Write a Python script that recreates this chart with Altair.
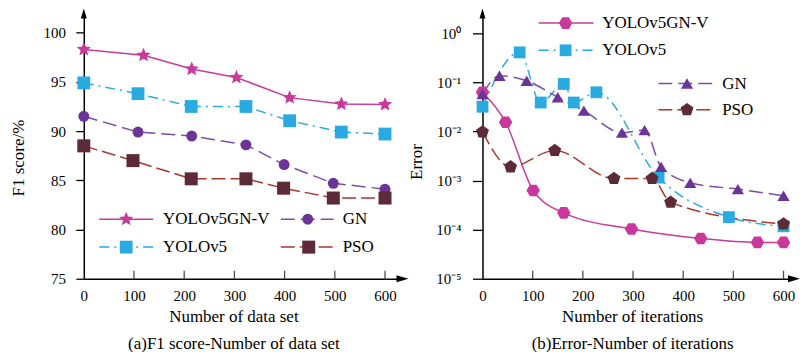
import math
import altair as alt
import pandas as pd

# ---------------- data ----------------
series_names = ["YOLOv5GN-V", "YOLOv5", "GN", "PSO"]

x_tick_values = [0, 100, 200, 300, 400, 500, 600]
f1_tick_values = [75, 80, 85, 90, 95, 100]
err_tick_values = [1e-5, 1e-4, 1e-3, 1e-2, 1e-1, 1]

# (a) F1 score vs number of data set
f1_x_yolov5gnv = [0, 119, 215, 304, 410, 513, 600]
f1_y_yolov5gnv = [98.3, 97.7, 96.3, 95.45, 93.4, 92.75, 92.7]
f1_x_yolov5 = [0, 108, 214, 323, 410, 513, 600]
f1_y_yolov5 = [94.9, 93.8, 92.5, 92.5, 91.05, 89.9, 89.7]
f1_x_gn = [0, 108, 215, 323, 399, 497, 600]
f1_y_gn = [91.5, 89.9, 89.5, 88.6, 86.6, 84.7, 84.1]
f1_x_pso = [0, 98, 214, 323, 398, 497, 600]
f1_y_pso = [88.5, 87.0, 85.15, 85.15, 84.2, 83.2, 83.2]

# (b) Error vs number of iterations
err_x_yolov5gnv = [0, 46, 101, 162, 297, 435, 548, 600]
err_y_yolov5gnv = [0.063, 0.0155, 6.3e-4, 2.2e-4, 1.03e-4, 6.6e-5, 5.5e-5, 5.5e-5]
err_x_yolov5 = [0, 74, 116, 162, 182, 227, 351, 491, 600]
err_y_yolov5 = [0.032, 0.41, 0.039, 0.093, 0.039, 0.063, 1.15e-3, 1.8e-4, 1.17e-4]
err_x_gn = [0, 34, 88, 150, 202, 278, 323, 356, 414, 509, 600]
err_y_gn = [0.058, 0.137, 0.108, 0.05, 0.0266, 0.0095, 0.0107, 1.9e-3, 9.0e-4, 6.7e-4, 4.9e-4]
err_x_pso = [0, 56, 144, 262, 338, 375, 600]
err_y_pso = [0.0098, 1.9e-3, 4.1e-3, 1.1e-3, 1.1e-3, 3.6e-4, 1.3e-4]

f1_title = "F1 score/%"
f1_x_title = ["Number of data set", "(a)F1 score-Number of data set"]
err_title = "Error"
err_x_title = ["Number of  iterations", "(b)Error-Number of  iterations"]

# ---------------- styles ----------------
FONT = "Liberation Serif"
TICK_FS = 15
TEXT_FS = 17


def poly_path(n, inner=None, rot=-90):
    k = n * 2 if inner else n
    pts = []
    for i in range(k):
        r = 1 if (inner is None or i % 2 == 0) else inner
        a = math.radians(rot + 360 * i / k)
        pts.append((r * math.cos(a), r * math.sin(a)))
    return "M" + "L".join(f"{x:.3f},{y:.3f}" for x, y in pts) + "Z"


STAR = poly_path(5, inner=0.45)
HEX = poly_path(6, rot=0)
PENT = poly_path(5)
TRI = "M0,-0.85L1,0.85L-1,0.85Z"
UP_ARROW = "M0,-1L0.6,1L-0.6,1Z"
RIGHT_ARROW = "M1,0L-1,-0.6L-1,0.6Z"

line_colors = {"YOLOv5GN-V": "#c83a9c", "YOLOv5": "#29abe2", "GN": "#7b4ea3", "PSO": "#a8392e"}
mark_colors = {"YOLOv5GN-V": "#c8399b", "YOLOv5": "#29abe2", "GN": "#6b3597", "PSO": "#5c2b37"}
dashes = {"YOLOv5GN-V": None, "YOLOv5": [10, 5, 2, 5], "GN": [14, 6], "PSO": [14, 5]}

left_shapes = {"YOLOv5GN-V": (STAR, 225), "YOLOv5": ("square", 165), "GN": ("circle", 120), "PSO": ("square", 170)}
right_shapes = {"YOLOv5GN-V": (HEX, 180), "YOLOv5": ("square", 140), "GN": (TRI, 150), "PSO": (PENT, 185)}

# legend layout (pixels inside the plot area): x1, x2, marker x, label x, y
left_legend = {
    "YOLOv5GN-V": (15.5, 69.5, 42.5, 79.5, 206.3),
    "YOLOv5": (15.5, 69.5, 42.5, 79.5, 234.3),
    "GN": (197.5, 250.5, 224.5, 259.5, 206.3),
    "PSO": (197.5, 250.5, 225.5, 259.5, 234.3),
}
right_legend = {
    "YOLOv5GN-V": (56.3, 111.3, 83.3, 120.0, 9.7),
    "YOLOv5": (56.3, 111.3, 83.3, 120.0, 37.0),
    "GN": (176.3, 233.3, 205.0, 240.3, 70.3),
    "PSO": (176.3, 233.3, 205.0, 240.3, 96.5),
}

one_row = pd.DataFrame({"a": [0]})


def build_panel(data, shapes, legend, x_scale, y_scale, x_axis, y_axis,
                ymin, xmax, ymax, ytype, interp, width, height):
    layers = []
    X = lambda: alt.X("x:Q", scale=x_scale, axis=x_axis)
    Y = lambda: alt.Y("y:Q", scale=y_scale, axis=y_axis)
    for name in series_names:
        xs, ys = data[name]
        df = pd.DataFrame({"x": xs, "y": ys})
        kw = dict(color=line_colors[name], strokeWidth=1.5, interpolate=interp)
        if dashes[name]:
            kw["strokeDash"] = dashes[name]
        layers.append(alt.Chart(df).mark_line(**kw).encode(x=X(), y=Y()))
    for name in series_names:
        xs, ys = data[name]
        df = pd.DataFrame({"x": xs, "y": ys})
        shp, sz = shapes[name]
        layers.append(alt.Chart(df).mark_point(shape=shp, size=sz, filled=True, opacity=1,
                                               color=mark_colors[name]).encode(x=X(), y=Y()))
    # inward ticks on x axis
    tdf = pd.DataFrame({"x": x_tick_values[1:]})
    layers.append(alt.Chart(tdf).mark_tick(orient="vertical", size=8, thickness=1.3, yOffset=-4,
                                           color="black").encode(
        x=X(), y=alt.YDatum(ymin, type="quantitative", scale=y_scale, axis=y_axis)))
    # arrows
    layers.append(alt.Chart(one_row).mark_point(shape=UP_ARROW, size=100, filled=True, opacity=1,
                                                color="black").encode(
        x=alt.XDatum(0, type="quantitative", scale=x_scale, axis=x_axis),
        y=alt.YDatum(ymax, type="quantitative", scale=y_scale, axis=y_axis)))
    layers.append(alt.Chart(one_row).mark_point(shape=RIGHT_ARROW, size=144, filled=True, opacity=1,
                                                color="black").encode(
        x=alt.XDatum(xmax, type="quantitative", scale=x_scale, axis=x_axis),
        y=alt.YDatum(ymin, type="quantitative", scale=y_scale, axis=y_axis)))
    # legend
    for name in series_names:
        x1, x2, xm, lx, ly = legend[name]
        kw = dict(color=line_colors[name], strokeWidth=1.5)
        if dashes[name]:
            kw["strokeDash"] = dashes[name]
        layers.append(alt.Chart(one_row).mark_rule(**kw).encode(
            x=alt.value(x1), x2=alt.value(x2), y=alt.value(ly)))
        shp, sz = shapes[name]
        layers.append(alt.Chart(one_row).mark_point(shape=shp, size=sz, filled=True, opacity=1,
                                                    color=mark_colors[name]).encode(
            x=alt.value(xm), y=alt.value(ly)))
        layers.append(alt.Chart(one_row).mark_text(align="left", baseline="middle", font=FONT,
                                                   fontSize=TEXT_FS, color="black").encode(
            x=alt.value(lx), y=alt.value(ly), text=alt.value(name)))
    return alt.layer(*layers).properties(width=width, height=height)


def x_axis_def(title):
    return alt.Axis(values=x_tick_values, format="d", ticks=False, tickSize=0,
                    labelFont=FONT, labelFontSize=TICK_FS, labelColor="black",
                    labelBaseline="alphabetic", labelPadding=21.8, labelFlush=False,
                    domainColor="black", domainWidth=1.5, grid=False,
                    title=title, titleFont=FONT, titleFontSize=TEXT_FS, titleFontWeight="normal",
                    titleColor="black", titleX=150, titleY=43, titleBaseline="alphabetic",
                    titleAlign="center", titleLineHeight=26.6)


H = 266
LW = 319.5
RW = 312.3

left_x_scale = alt.Scale(domain=[0, LW / 0.5033], nice=False, zero=False)
left_y_scale = alt.Scale(domain=[75, 75 + H / 9.868], nice=False, zero=False)
left_y_axis = alt.Axis(values=f1_tick_values, tickSize=8, tickWidth=1.3, tickColor="black",
                       labelFont=FONT, labelFontSize=TICK_FS, labelColor="black", labelPadding=10.4,
                       domainColor="black", domainWidth=1.5, grid=False,
                       title=f1_title, titleFont=FONT, titleFontSize=TEXT_FS, titleFontWeight="normal",
                       titleColor="black", titleX=-65.5, titleY=144.5, titleAngle=270,
                       titleBaseline="middle", titleAlign="center")

err_top = 10 ** (H / 49.2 - 5)
right_x_scale = alt.Scale(domain=[0, RW / 0.503], nice=False, zero=False)
right_y_scale = alt.Scale(type="log", domain=[1e-5, err_top], nice=False)
label_expr = ("datum.value >= 0.5 ? '10⁰' : datum.value >= 0.05 ? '10⁻¹' : "
              "datum.value >= 0.005 ? '10⁻²' : datum.value >= 0.0005 ? '10⁻³' : "
              "datum.value >= 0.00005 ? '10⁻⁴' : '10⁻⁵'")
right_y_axis = alt.Axis(values=err_tick_values, labelExpr=label_expr, tickSize=10, tickWidth=1.3,
                        tickColor="black", labelFont=FONT, labelFontSize=TICK_FS, labelColor="black",
                        labelPadding=11.7, domainColor="black", domainWidth=1.5, grid=False,
                        title=err_title, titleFont=FONT, titleFontSize=TEXT_FS, titleFontWeight="normal",
                        titleColor="black", titleX=-65.7, titleY=148.5, titleAngle=270,
                        titleBaseline="middle", titleAlign="center")

left_data = {
    "YOLOv5GN-V": (f1_x_yolov5gnv, f1_y_yolov5gnv),
    "YOLOv5": (f1_x_yolov5, f1_y_yolov5),
    "GN": (f1_x_gn, f1_y_gn),
    "PSO": (f1_x_pso, f1_y_pso),
}
right_data = {
    "YOLOv5GN-V": (err_x_yolov5gnv, err_y_yolov5gnv),
    "YOLOv5": (err_x_yolov5, err_y_yolov5),
    "GN": (err_x_gn, err_y_gn),
    "PSO": (err_x_pso, err_y_pso),
}

left = build_panel(left_data, left_shapes, left_legend, left_x_scale, left_y_scale,
                   x_axis_def(f1_x_title), left_y_axis, 75, LW / 0.5033, 75 + H / 9.868,
                   "linear", "linear", LW, H)
right = build_panel(right_data, right_shapes, right_legend, right_x_scale, right_y_scale,
                    x_axis_def(err_x_title), right_y_axis, 1e-5, RW / 0.503, err_top,
                    "log", "monotone", RW, H)

chart = alt.hconcat(left, right, spacing=79.7, bounds="flush").properties(
    padding={"left": 9, "top": 8, "right": 0, "bottom": 0},
    background="white",
).configure_view(stroke=None)

chart.save("out.html", embed_options={"renderer": "svg", "actions": False})
